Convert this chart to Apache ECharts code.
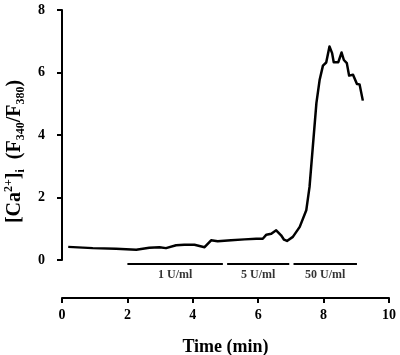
<!DOCTYPE html>
<html>
<head>
<meta charset="utf-8">
<script src="https://cdn.jsdelivr.net/npm/echarts@6/dist/echarts.min.js"></script>
<style>html,body{margin:0;padding:0;background:#fff}#c{width:400px;height:355px}</style>
</head>
<body>
<div id="c"></div>
<script>
// Ca2+ ratio trace
var times  = [0.19,0.94,1.65,2.27,2.67,2.98,3.18,3.49,3.74,4.05,4.36,4.56,4.76,5.17,5.58,5.94,6.14,6.25,6.40,6.55,6.70,6.79,6.88,7.06,7.27,7.47,7.57,7.67,7.78,7.88,7.98,8.08,8.12,8.18,8.26,8.31,8.45,8.55,8.62,8.71,8.78,8.90,9.02,9.10,9.20];
var ratios = [0.42,0.38,0.36,0.33,0.39,0.41,0.38,0.47,0.49,0.49,0.41,0.63,0.60,0.63,0.66,0.68,0.68,0.81,0.84,0.95,0.79,0.65,0.61,0.74,1.06,1.59,2.34,3.62,5.02,5.77,6.22,6.32,6.36,6.83,6.62,6.33,6.33,6.64,6.40,6.30,5.90,5.93,5.63,5.62,5.10];
// treatment periods
var periodStarts = [2.0, 5.05, 7.08];
var periodEnds   = [4.92, 6.95, 9.02];
var periodLabels = ['1 U/ml', '5 U/ml', '50 U/ml'];
// axis ticks
var xTicks = [0, 2, 4, 6, 8, 10];
var yTicks = [0, 2, 4, 6, 8];

var FONT = 'Liberation Serif';
var trace = times.map(function (t, i) { return [t, ratios[i]]; });
var periodSeries = periodStarts.map(function (s, i) {
  return {
    type: 'line', xAxisIndex: 1, yAxisIndex: 1, symbol: 'none', silent: true,
    lineStyle: { color: '#000', width: 2 },
    data: [[s, 0], [periodEnds[i], 0]]
  };
});
var labelData = periodStarts.map(function (s, i) {
  return { name: periodLabels[i], value: [(s + periodEnds[i]) / 2, 0] };
});

var chart = echarts.init(document.getElementById('c'), null, { renderer: 'canvas' });
chart.setOption({
  animation: false,
  backgroundColor: '#fff',
  grid: [
    { left: 62, right: 11, top: 10, bottom: 95, containLabel: false, outerBoundsMode: 'none' },
    { left: 62, right: 11, top: 259, height: 10, containLabel: false, outerBoundsMode: 'none' }
  ],
  xAxis: [
    {
      gridIndex: 0, type: 'value', min: xTicks[0], max: xTicks[xTicks.length - 1], interval: 2,
      offset: 38,
      name: 'Time (min)', nameLocation: 'middle', nameGap: 40,
      nameTextStyle: { fontFamily: FONT, fontWeight: 'bold', fontSize: 18, color: '#000' },
      axisLine: { show: true, onZero: false, lineStyle: { color: '#000', width: 2 } },
      axisTick: { show: true, length: 5, lineStyle: { color: '#000', width: 2 } },
      axisLabel: { margin: 10, fontFamily: FONT, fontWeight: 'bold', fontSize: 14, color: '#000' },
      splitLine: { show: false }
    },
    {
      gridIndex: 1, type: 'value', min: xTicks[0], max: xTicks[xTicks.length - 1], show: false
    }
  ],
  yAxis: [
    {
      gridIndex: 0, type: 'value', min: yTicks[0], max: yTicks[yTicks.length - 1], interval: 2,
      name: '{b|[Ca}{sup|2+}{b|]}{sub|i}{b|  (F}{sub|340}{b|/F}{sub|380}{b|)}',
      nameLocation: 'middle', nameGap: 30,
      nameTextStyle: {
        padding: [0, 33, 0, 0],
        rich: {
          b: { fontFamily: FONT, fontWeight: 'bold', fontSize: 20, color: '#000', lineHeight: 24 },
          sup: { fontFamily: FONT, fontWeight: 'bold', fontSize: 12, color: '#000', verticalAlign: 'top', lineHeight: 14 },
          sub: { fontFamily: FONT, fontWeight: 'bold', fontSize: 12, color: '#000', verticalAlign: 'bottom', lineHeight: 14 }
        }
      },
      axisLine: { show: true, onZero: false, lineStyle: { color: '#000', width: 2 } },
      axisTick: { show: true, length: 5, lineStyle: { color: '#000', width: 2 } },
      axisLabel: { margin: 17, fontFamily: FONT, fontWeight: 'bold', fontSize: 14, color: '#000' },
      splitLine: { show: false }
    },
    { gridIndex: 1, type: 'value', min: -1, max: 1, show: false }
  ],
  series: [
    {
      type: 'line', xAxisIndex: 0, yAxisIndex: 0, symbol: 'none',
      lineStyle: { color: '#000', width: 2.5, join: 'round' },
      data: trace
    }
  ].concat(periodSeries).concat([
    {
      type: 'scatter', xAxisIndex: 1, yAxisIndex: 1, symbolSize: 0, silent: true,
      label: {
        show: true, position: 'bottom', distance: 5, formatter: '{b}',
        fontFamily: FONT, fontWeight: 'bold', fontSize: 12, color: '#000'
      },
      data: labelData
    }
  ])
});
</script>
</body>
</html>
